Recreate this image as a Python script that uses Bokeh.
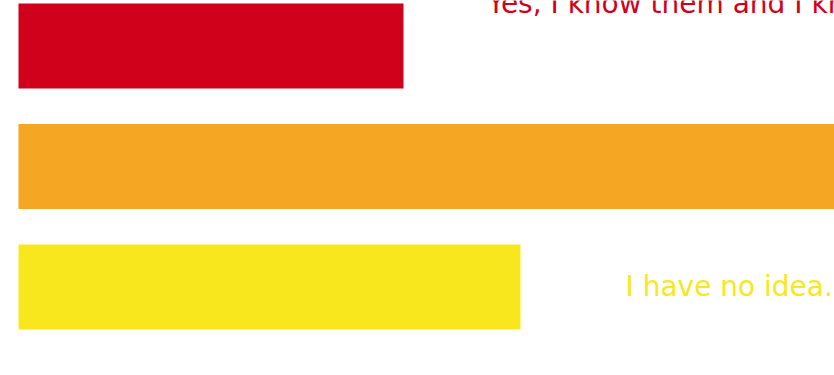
from bokeh.plotting import figure
from bokeh.models import Range1d, ColumnDataSource
from bokeh.core.properties import value
from bokeh.embed import file_html
from bokeh.resources import INLINE

# Data
answers = ["Yes, I know them and I know", "Somewhat", "I have no idea."]
shares = [38.5, 85.0, 50.2]
colors = ["#D0021B", "#F5A623", "#F8E71C"]
positions = [0, 1, 2]

label_texts = ["Yes, I know them and I know", "I have no idea."]
label_x = [46.9, 60.7]
label_y = [-0.353, 1.995]
label_colors = ["#D0021B", "#F8E71C"]

p = figure(width=834, height=375, output_backend="svg", toolbar_location=None,
           x_range=Range1d(-1.8, 81.6), y_range=Range1d(2.734, -0.378),
           min_border=0, outline_line_color=None)
p.axis.visible = False
p.grid.visible = False
p.background_fill_color = "white"
p.border_fill_color = "white"

src = ColumnDataSource(dict(y=positions, right=shares, color=colors))
p.hbar(y="y", left=0, right="right", height=0.705, color="color", line_color=None, source=src)

lsrc = ColumnDataSource(dict(x=label_x, y=label_y, text=label_texts, color=label_colors))
p.text(x="x", y="y", text="text", text_color="color", source=lsrc,
       text_font=value("DejaVu Sans"), text_font_size="28px",
       text_baseline="alphabetic", text_align="left")

open("out.html", "w").write(file_html(p, INLINE))
